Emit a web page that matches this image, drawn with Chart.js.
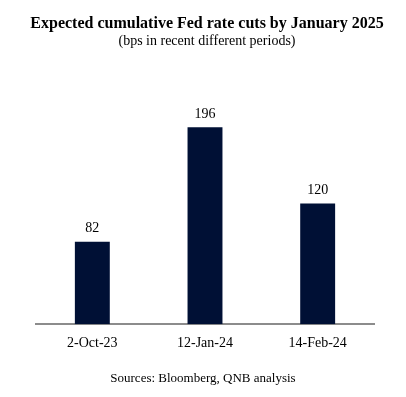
<!DOCTYPE html>
<html>
<head>
<meta charset="utf-8">
<script src="https://cdn.jsdelivr.net/npm/chart.js@4"></script>
<style>
  body { margin: 0; background: #fff; }
  #wrap { position: relative; width: 406px; height: 397px; overflow: hidden; }
  #fedChart { position: absolute; left: 0; top: 0; }
  .txt { position: absolute; left: 0; width: 406px; text-align: center; font-family: "Liberation Serif", "Times New Roman", serif; color: #000; }
  #ttl { top: 14px; font-size: 16px; font-weight: bold; left: 4px; }
  #sub { top: 33px; font-size: 14px; left: 4px; }
  #src { top: 370px; font-size: 13px; }
</style>
</head>
<body>
<div id="wrap">
  <canvas id="fedChart" width="406" height="397"></canvas>
  <div class="txt" id="ttl">Expected cumulative Fed rate cuts by January 2025</div>
  <div class="txt" id="sub">(bps in recent different periods)</div>
  <div class="txt" id="src">Sources: Bloomberg, QNB analysis</div>
</div>
<script>
const periods = ['2-Oct-23', '12-Jan-24', '14-Feb-24'];
const rateCuts = [82, 196, 120];
const barColor = '#001035';

// draws value above each bar
const valueLabels = {
  id: 'valueLabels',
  afterDatasetsDraw(chart) {
    const ctx = chart.ctx;
    const meta = chart.getDatasetMeta(0);
    ctx.save();
    ctx.font = '14px "Liberation Serif", serif';
    ctx.fillStyle = '#000';
    ctx.textAlign = 'center';
    ctx.textBaseline = 'bottom';
    meta.data.forEach((bar, i) => {
      ctx.fillText(chart.data.datasets[0].data[i], bar.x, bar.y - 6);
    });
    ctx.restore();
  }
};

let fedChart = new Chart('fedChart', {
  type: 'bar',
  data: {
    labels: periods,
    datasets: [{
      data: rateCuts,
      backgroundColor: barColor,
      barPercentage: 0.31,
      categoryPercentage: 1
    }]
  },
  options: {
    responsive: false,
    animation: false,
    layout: { padding: { top: 100, left: 36, right: 32, bottom: 42 } },
    plugins: {
      legend: { display: false },
      tooltip: { enabled: false }
    },
    scales: {
      x: {
        grid: { display: false },
        border: { display: true, color: '#8c8c8c', width: 2 },
        ticks: {
          color: '#000',
          padding: 3,
          font: { family: '"Liberation Serif", serif', size: 14 }
        }
      },
      y: {
        display: false,
        min: 0,
        max: 223
      }
    }
  },
  plugins: [valueLabels]
});
</script>
</body>
</html>
